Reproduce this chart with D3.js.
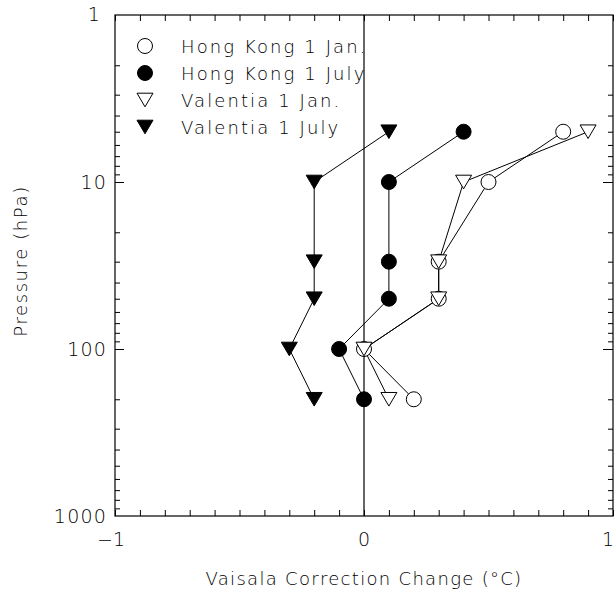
<!DOCTYPE html>
<html><head><meta charset="utf-8">
<script src="https://cdn.jsdelivr.net/npm/d3@7"></script>
<style>
body{margin:0;background:#fff;}
text{font-family:"DejaVu Sans ExtraLight","DejaVu Sans",sans-serif;font-weight:200;fill:#000;}
</style></head>
<body><svg id="c" width="614" height="593"></svg>
<script>
const pressures = [5, 10, 30, 50, 100, 200];
const hkJan   = [0.8, 0.5, 0.3, 0.3, 0.0, 0.2];
const hkJul   = [0.4, 0.1, 0.1, 0.1, -0.1, 0.0];
const valJan  = [0.9, 0.4, 0.3, 0.3, 0.0, 0.1];
const valJul  = [0.1, -0.2, -0.2, -0.2, -0.3, -0.2];
const seriesNames = ["Hong Kong 1 Jan.", "Hong Kong 1 July", "Valentia 1 Jan.", "Valentia 1 July"];
const xTickLabels = ["\u22121", "0", "1"];
const xTickValues = [-1, 0, 1];
const yTickValues = [1, 10, 100, 1000];
const yTickLabels = ["1", "10", "100", "1000"];

const svg = d3.select("#c");
const L = 115, R = 613, T = 15, B = 516;
const x = d3.scaleLinear().domain([-1, 1]).range([L, R]);
const y = d3.scaleLog().domain([1, 1000]).range([T, B]);

const series = [
  {name: seriesNames[0], vals: hkJan, shape: "circle", fill: "#fff"},
  {name: seriesNames[1], vals: hkJul, shape: "circle", fill: "#000"},
  {name: seriesNames[2], vals: valJan, shape: "tri", fill: "#fff"},
  {name: seriesNames[3], vals: valJul, shape: "tri", fill: "#000"}
];

// frame
svg.append("rect").attr("x", L).attr("y", T).attr("width", R - L).attr("height", B - T)
  .attr("fill", "none").attr("stroke", "#000").attr("stroke-width", 1.2);

// ticks
const xMinor = d3.range(-10, 11).map(d => d / 10);
const minorLog = [];
[1, 10, 100].forEach(dec => { for (let k = 2; k <= 9; k++) minorLog.push(dec * k); });
const g = svg.append("g").attr("stroke", "#000").attr("stroke-width", 1);
g.append("g").attr("transform", `translate(0,${B})`)
  .call(d3.axisBottom(x).tickValues(xMinor).tickSize(-6).tickFormat("")).call(a => a.select(".domain").remove());
g.append("g").attr("transform", `translate(0,${T})`)
  .call(d3.axisTop(x).tickValues(xMinor).tickSize(-6).tickFormat("")).call(a => a.select(".domain").remove());
g.append("g").attr("transform", `translate(${L},0)`)
  .call(d3.axisLeft(y).tickValues(minorLog).tickSize(-5).tickFormat("")).call(a => a.select(".domain").remove());
g.append("g").attr("transform", `translate(${L},0)`)
  .call(d3.axisLeft(y).tickValues([10, 100]).tickSize(-9).tickFormat("")).call(a => a.select(".domain").remove());
g.append("g").attr("transform", `translate(${R},0)`)
  .call(d3.axisRight(y).tickValues(minorLog).tickSize(-5).tickFormat("")).call(a => a.select(".domain").remove());
g.append("g").attr("transform", `translate(${R},0)`)
  .call(d3.axisRight(y).tickValues([10, 100]).tickSize(-10).tickFormat("")).call(a => a.select(".domain").remove());

// zero line
svg.append("line").attr("x1", x(0)).attr("x2", x(0)).attr("y1", T).attr("y2", B)
  .attr("stroke", "#000").attr("stroke-width", 1.2);

// tick labels
svg.selectAll(".xl").data(xTickValues).join("text")
  .attr("x", (d, i) => i === 0 ? x(d) - 4 : (i === 2 ? 614 : x(d)))
  .attr("y", 546).attr("text-anchor", (d, i) => i === 2 ? "end" : "middle")
  .attr("font-size", 19).text((d, i) => xTickLabels[i]);
svg.selectAll(".yl").data(yTickValues).join("text")
  .attr("x", (d, i) => i === 0 ? 101 : 107).attr("y", (d, i) => y(d) + (i === 0 ? 6 : 7)).attr("text-anchor", "end")
  .attr("font-size", 19).attr("letter-spacing", 1.2).text((d, i) => yTickLabels[i]);

// axis titles
svg.append("text").attr("x", 364).attr("y", 585).attr("text-anchor", "middle")
  .attr("font-size", 18).attr("letter-spacing", 1.3).text("Vaisala Correction Change (\u00B0C)");
svg.append("text").attr("transform", "translate(27,261) rotate(-90)").attr("text-anchor", "middle")
  .attr("font-size", 18).attr("letter-spacing", 1.6).text("Pressure (hPa)");

const triPath = (cx, cy, s) => `M${cx - s},${cy - s * 0.85}L${cx + s},${cy - s * 0.85}L${cx},${cy + s * 0.85}Z`;
function marker(sel, shape, fill, cx, cy) {
  if (shape === "circle") {
    sel.append("circle").attr("cx", cx).attr("cy", cy).attr("r", 7.5)
      .attr("fill", fill).attr("stroke", "#000").attr("stroke-width", 1);
  } else {
    sel.append("path").attr("d", triPath(cx, cy, 8))
      .attr("fill", fill).attr("stroke", "#000").attr("stroke-width", 1);
  }
}

const line = d3.line().x(d => x(d[0])).y(d => y(d[1]));
series.forEach(s => {
  const pts = s.vals.map((v, i) => [v, pressures[i]]);
  svg.append("path").attr("d", line(pts)).attr("fill", "none").attr("stroke", "#000").attr("stroke-width", 1);
});
series.forEach(s => {
  const gm = svg.append("g");
  s.vals.forEach((v, i) => marker(gm, s.shape, s.fill, x(v), y(pressures[i])));
});

// legend
series.forEach((s, i) => {
  const cy = 46 + i * 27;
  const gl = svg.append("g");
  marker(gl, s.shape, s.fill, 145, cy);
  gl.append("text").attr("x", 181).attr("y", cy + 7).attr("font-size", 18)
    .attr("letter-spacing", 2.1).text(s.name);
});
</script></body></html>
